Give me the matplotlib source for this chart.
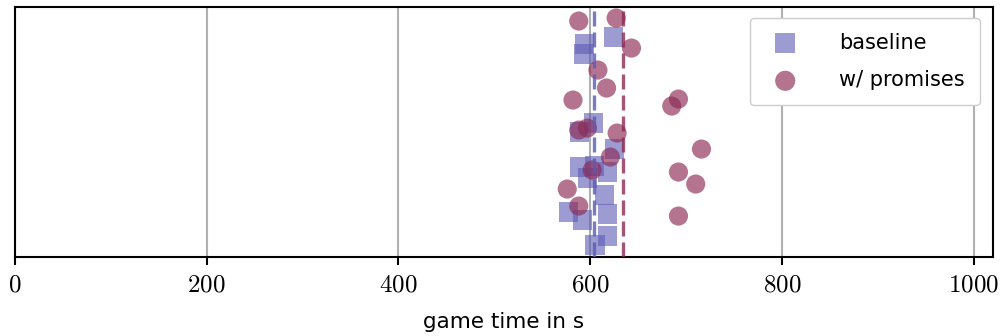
import numpy as np
import matplotlib
matplotlib.use('Agg')
import matplotlib.pyplot as plt
from matplotlib.ticker import FuncFormatter

plt.rcParams['mathtext.fontset'] = 'cm'
plt.rcParams['font.family'] = 'DejaVu Sans'

# game times (s) and vertical jitter for each run
baseline_t = [594, 593, 624, 603, 589, 625, 589, 604, 618, 597, 615, 577, 618, 592, 618, 605]
baseline_y = [0.852, 0.812, 0.880, 0.536, 0.500, 0.432, 0.360, 0.364, 0.340, 0.316,
              0.248, 0.180, 0.172, 0.148, 0.084, 0.048]
promises_t = [588, 627, 643, 608, 617, 582, 588, 597, 628, 621, 602, 576, 588,
              692, 685, 716, 692, 710, 692]
promises_y = [0.944, 0.956, 0.836, 0.748, 0.676, 0.628, 0.508, 0.516, 0.496, 0.400,
              0.348, 0.272, 0.204, 0.632, 0.604, 0.432, 0.340, 0.292, 0.164]

blue = '#5a5ab4'
red = '#8c2a55'

fig = plt.figure(figsize=(10.05, 3.36), dpi=100)
ax = fig.add_axes([0.0149, 0.235, 0.9731, 0.744])

ax.scatter(baseline_t, baseline_y, marker='s', s=190, color=blue, alpha=0.6,
           edgecolors='none', label='baseline', zorder=3)
ax.scatter(promises_t, promises_y, marker='o', s=190, color=red, alpha=0.65,
           edgecolors='none', label='w/ promises', zorder=3)
ax.axvline(np.mean(baseline_t), color=blue, alpha=0.8, lw=2.4, ls=(0, (4.5, 1.8)), zorder=4)
ax.axvline(np.mean(promises_t), color=red, alpha=0.8, lw=2.4, ls=(0, (4.5, 1.8)), zorder=4)

ax.set_xlim(0, 1020)
ax.set_ylim(0, 1)
ax.set_yticks([])
ax.set_xticks([0, 200, 400, 600, 800, 1000])
ax.xaxis.set_major_formatter(FuncFormatter(lambda v, p: r'$%d$' % v))
ax.tick_params(axis='x', labelsize=18, length=6, width=1.5, pad=5)
ax.grid(axis='x', color='#b0b0b0', lw=1.5, zorder=0)
ax.set_axisbelow(True)
for sp in ax.spines.values():
    sp.set_linewidth(1.5)
ax.set_xlabel('game time in s', fontsize=15.5, labelpad=11)

ax.legend(loc='upper right', fontsize=15, handletextpad=1.6, borderpad=0.7,
          labelspacing=0.85, bbox_to_anchor=(0.997, 0.998), framealpha=1,
          edgecolor='#cccccc', markerscale=1.05)

fig.savefig('out.png', dpi=100)
